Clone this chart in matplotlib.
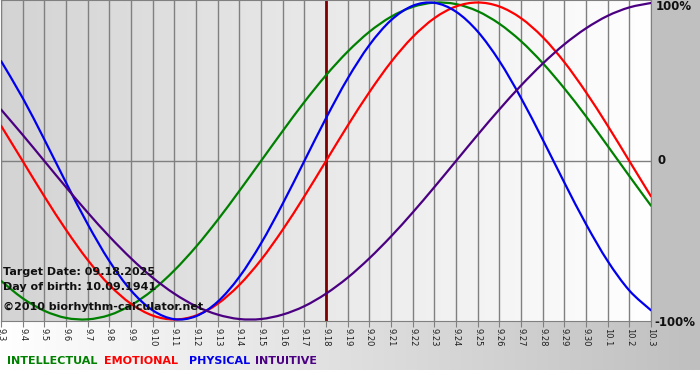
import matplotlib
matplotlib.use("Agg")
import matplotlib.pyplot as plt
import numpy as np
from matplotlib.patches import Rectangle, PathPatch
from matplotlib.path import Path

# day labels 09.03 .. 10.03, target date 09.18 at index 15
days = ["9.3", "9.4", "9.5", "9.6", "9.7", "9.8", "9.9", "9.10", "9.11", "9.12",
        "9.13", "9.14", "9.15", "9.16", "9.17", "9.18", "9.19", "9.20", "9.21",
        "9.22", "9.23", "9.24", "9.25", "9.26", "9.27", "9.28", "9.29", "9.30",
        "10.1", "10.2", "10.3"]
target_index = 15

intellectual = [-0.756, -0.866, -0.945, -0.990, -0.999, -0.972, -0.910, -0.815,
                -0.690, -0.541, -0.372, -0.189, 0.0, 0.189, 0.372, 0.541, 0.690,
                0.815, 0.910, 0.972, 0.999, 0.990, 0.945, 0.866, 0.756, 0.618,
                0.458, 0.282, 0.095, -0.095, -0.282]
emotional = [0.223, 0.0, -0.223, -0.434, -0.624, -0.782, -0.901, -0.975, -1.0,
             -0.975, -0.901, -0.782, -0.624, -0.434, -0.223, 0.0, 0.223, 0.434,
             0.624, 0.782, 0.901, 0.975, 1.0, 0.975, 0.901, 0.782, 0.624, 0.434,
             0.223, 0.0, -0.223]
physical = [0.631, 0.398, 0.136, -0.136, -0.398, -0.631, -0.817, -0.942, -0.998,
            -0.979, -0.888, -0.731, -0.520, -0.270, 0.0, 0.270, 0.520, 0.731,
            0.888, 0.979, 0.998, 0.942, 0.817, 0.631, 0.398, 0.136, -0.136,
            -0.398, -0.631, -0.817, -0.942]
intuitive = [0.325, 0.165, 0.0, -0.165, -0.325, -0.476, -0.614, -0.736, -0.837,
             -0.916, -0.969, -0.997, -0.997, -0.969, -0.916, -0.837, -0.736,
             -0.614, -0.476, -0.325, -0.165, 0.0, 0.165, 0.325, 0.476, 0.614,
             0.736, 0.837, 0.916, 0.969, 0.997]

series = [("INTELLECTUAL", intellectual, "#008000"),
          ("EMOTIONAL", emotional, "#ff0000"),
          ("PHYSICAL", physical, "#0000ee"),
          ("INTUITIVE", intuitive, "#4b0082")]
legend_gaps = [7, 11, 4]


def smooth_path(xs, ys):
    # catmull-rom through the points, drawn as cubic bezier segments
    pts = np.column_stack([xs, ys]).astype(float)
    verts = [pts[0]]
    codes = [Path.MOVETO]
    n = len(pts)
    for i in range(n - 1):
        p0 = pts[i - 1] if i > 0 else pts[i]
        p1, p2 = pts[i], pts[i + 1]
        p3 = pts[i + 2] if i + 2 < n else pts[i + 1]
        verts += [p1 + (p2 - p0) / 6, p2 - (p3 - p1) / 6, p2]
        codes += [Path.CURVE4] * 3
    return Path(verts, codes)


W, H = 700, 380
fig = plt.figure(figsize=(W / 100, H / 100), dpi=100)

# background layer in pixel coords
bg = fig.add_axes([0, 0, 1, 1], zorder=-1)
bg.axis("off")
grad = np.linspace(0, 1, 256).reshape(1, -1)
band = np.dstack([1 - 0.25 * grad] * 3)
bg.imshow(band, extent=(0, W, 370, 321), aspect="auto", interpolation="bilinear")
bg.add_patch(Rectangle((651, 0), 49, 321, color="#c0c0c0", lw=0))
bg.set_xlim(0, W)
bg.set_ylim(H, 0)

ax = fig.add_axes([1 / W, (H - 321) / H, 650 / W, 321 / H])
plot_grad = np.dstack([0.83 + 0.17 * grad] * 3)
ax.imshow(plot_grad, extent=(0, len(days) - 1, -2, 2), aspect="auto",
          interpolation="bilinear", zorder=0)
ax.set_xlim(0, len(days) - 1)
ax.set_ylim(-160 / 158.5, 161 / 158.5)

x = np.arange(len(days))
for xi in x:
    ax.axvline(xi, color="#808080", lw=1, zorder=1)
ax.axhline(0, color="#808080", lw=1, zorder=1)
ax.axvline(target_index, color="#800000", lw=2, zorder=2)

for name, vals, col in series:
    ax.add_patch(PathPatch(smooth_path(x, vals), facecolor="none", edgecolor=col,
                           lw=1.6, zorder=3, capstyle="round"))

for s in ax.spines.values():
    s.set_color("#808080")
ax.set_xticks(x)
ax.set_xticklabels(days, rotation=270, fontsize=6, color="#202020")
ax.tick_params(axis="x", length=4, color="#808080", pad=1)
ax.set_yticks([])

txt = dict(fontsize=8, fontweight="bold", color="#101010", transform=ax.transAxes)
ax.text(2 / 650, (321 - 272) / 321, "Target Date: 09.18.2025", va="center", **txt)
ax.text(2 / 650, (321 - 287) / 321, "Day of birth: 10.09.1941", va="center", **txt)
ax.text(2 / 650, (321 - 307) / 321, "\u00a92010 biorhythm-calculator.net", va="center", **txt)

lab = dict(fontsize=8.5, fontweight="bold", color="#101010", va="center", transform=bg.transData)
bg.text(656, 7, "100%", **lab)
bg.text(658, 161, "0", **lab)
bg.text(654, 322, "-100%", **lab)

xpos = 7
for (name, vals, col), gap in zip(series, legend_gaps + [0]):
    t = bg.text(xpos, 361, name, fontsize=8, fontweight="bold", color=col,
                va="center", transform=bg.transData)
    fig.canvas.draw()
    bb = t.get_window_extent()
    xpos = bb.x1 + gap

fig.savefig("out.png", dpi=100)
